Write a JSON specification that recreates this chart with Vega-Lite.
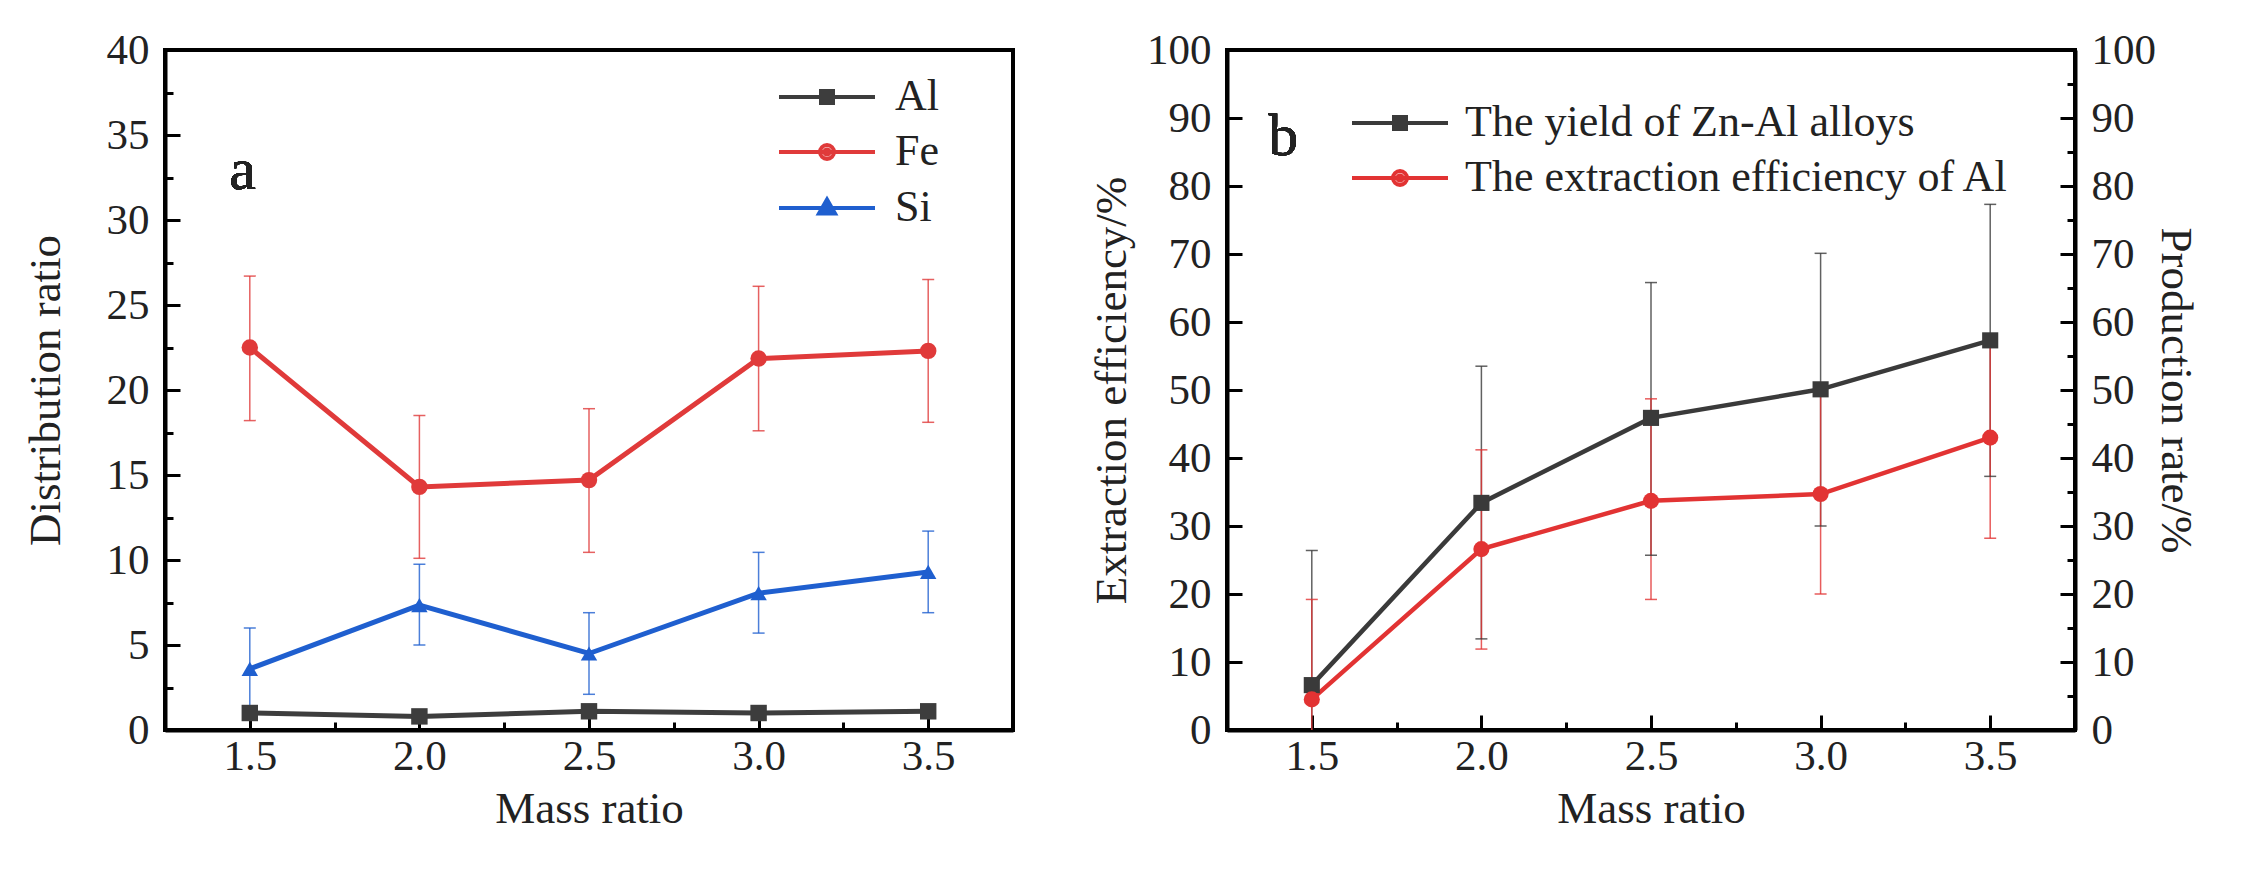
{
  "$schema": "https://vega.github.io/schema/vega-lite/v6.json",
  "background": "white",
  "padding": {"left": 21, "top": 27, "right": 10, "bottom": 10},
  "spacing": 72,
  "config": {
    "font": "Liberation Serif, serif",
    "style": {
      "guide-label": {"font": "Liberation Serif, serif"},
      "guide-title": {"font": "Liberation Serif, serif"}
    },
    "view": {"stroke": "black", "strokeWidth": 4},
    "axis": {
      "grid": false,
      "domainColor": "black",
      "domainWidth": 4,
      "tickColor": "black",
      "tickWidth": 3,
      "labelFont": "Liberation Serif, serif",
      "labelFontSize": 43,
      "labelColor": "#222222",
      "labelPadding": 31,
      "labelOverlap": false,
      "labelFlush": false,
      "titleFont": "Liberation Serif, serif",
      "titleFontSize": 45,
      "titleFontWeight": "normal",
      "titleColor": "#222222",
      "titlePadding": 12
    },
    "legend": {
      "orient": "none",
      "title": null,
      "padding": 0,
      "symbolSize": 1600,
      "symbolOpacity": 1,
      "symbolStrokeWidth": 4,
      "labelFont": "Liberation Serif, serif",
      "labelFontSize": 44,
      "labelColor": "#222222",
      "labelLimit": 1000
    }
  },
  "resolve": {"scale": {"color": "independent", "shape": "independent"}},
  "hconcat": [
    {
      "width": 848,
      "height": 680,
      "data": {
        "values": [
          {"mass": 1.5, "element": "Al", "value": 1.0, "lo": null, "hi": null},
          {"mass": 2.0, "element": "Al", "value": 0.8, "lo": null, "hi": null},
          {"mass": 2.5, "element": "Al", "value": 1.1, "lo": null, "hi": null},
          {"mass": 3.0, "element": "Al", "value": 1.0, "lo": null, "hi": null},
          {"mass": 3.5, "element": "Al", "value": 1.1, "lo": null, "hi": null},
          {"mass": 1.5, "element": "Fe", "value": 22.5, "lo": 18.2, "hi": 26.7},
          {"mass": 2.0, "element": "Fe", "value": 14.3, "lo": 10.1, "hi": 18.5},
          {"mass": 2.5, "element": "Fe", "value": 14.7, "lo": 10.45, "hi": 18.9},
          {"mass": 3.0, "element": "Fe", "value": 21.85, "lo": 17.6, "hi": 26.1},
          {"mass": 3.5, "element": "Fe", "value": 22.3, "lo": 18.1, "hi": 26.5},
          {"mass": 1.5, "element": "Si", "value": 3.6, "lo": 1.2, "hi": 6.0},
          {"mass": 2.0, "element": "Si", "value": 7.35, "lo": 5.0, "hi": 9.75},
          {"mass": 2.5, "element": "Si", "value": 4.5, "lo": 2.1, "hi": 6.9},
          {"mass": 3.0, "element": "Si", "value": 8.05, "lo": 5.7, "hi": 10.45},
          {"mass": 3.5, "element": "Si", "value": 9.3, "lo": 6.9, "hi": 11.7}
        ]
      },
      "resolve": {"scale": {"shape": "independent"}},
      "layer": [
        {
          "mark": {"type": "rule", "strokeWidth": 1.5, "opacity": 0.8, "clip": true},
          "encoding": {
            "x": {
              "field": "mass", "type": "quantitative", "title": "Mass ratio",
              "scale": {"domain": [1.25, 3.75], "nice": false, "zero": false},
              "axis": {
                "values": [1.5, 1.75, 2.0, 2.25, 2.5, 2.75, 3.0, 3.25, 3.5],
                "labelExpr": "(datum.value * 4) % 2 === 0 ? format(datum.value, '.1f') : ''",
                "tickSize": {"condition": {"test": "(datum.value * 4) % 2 === 0", "value": -15}, "value": -8},
                "labelFont": "Liberation Serif, serif", "titleFont": "Liberation Serif, serif",
                "labelPadding": 20, "titlePadding": 1
              }
            },
            "y": {
              "field": "lo", "type": "quantitative", "title": "Distribution ratio",
              "scale": {"domain": [0, 40], "nice": false},
              "axis": {
                "values": [0, 2.5, 5, 7.5, 10, 12.5, 15, 17.5, 20, 22.5, 25, 27.5, 30, 32.5, 35, 37.5, 40],
                "labelExpr": "datum.value % 5 === 0 ? datum.label : ''",
                "tickSize": {"condition": {"test": "datum.value % 5 === 0", "value": -15}, "value": -8},
                "labelFont": "Liberation Serif, serif", "titleFont": "Liberation Serif, serif", "titlePadding": 38
              }
            },
            "y2": {"field": "hi"},
            "color": {"field": "element", "type": "nominal", "scale": {"domain": ["Al", "Fe", "Si"], "range": ["#3d3d3d", "#e03a3a", "#1f5fcf"]}, "legend": null}
          }
        },
        {
          "mark": {"type": "tick", "orient": "horizontal", "size": 12, "thickness": 1.5, "opacity": 0.8, "clip": true},
          "encoding": {
            "x": {"field": "mass", "type": "quantitative"},
            "y": {"field": "lo", "type": "quantitative"},
            "color": {"field": "element", "type": "nominal", "legend": null}
          }
        },
        {
          "mark": {"type": "tick", "orient": "horizontal", "size": 12, "thickness": 1.5, "opacity": 0.8, "clip": true},
          "encoding": {
            "x": {"field": "mass", "type": "quantitative"},
            "y": {"field": "hi", "type": "quantitative"},
            "color": {"field": "element", "type": "nominal", "legend": null}
          }
        },
        {
          "mark": {"type": "line", "strokeWidth": 5},
          "encoding": {
            "x": {"field": "mass", "type": "quantitative"},
            "y": {"field": "value", "type": "quantitative"},
            "color": {"field": "element", "type": "nominal", "legend": null}
          }
        },
        {
          "mark": {"type": "point", "filled": true, "opacity": 1},
          "encoding": {
            "x": {"field": "mass", "type": "quantitative"},
            "y": {"field": "value", "type": "quantitative"},
            "color": {"field": "element", "type": "nominal", "legend": null},
            "shape": {"field": "element", "type": "nominal", "scale": {"domain": ["Al", "Fe", "Si"], "range": ["square", "circle", "triangle-up"]}, "legend": null},
            "size": {"value": 270}
          }
        },
        {
          "transform": [{"filter": "datum.element === 'Al'"}],
          "mark": {"type": "point", "filled": false, "color": "#3d3d3d", "strokeWidth": 4, "opacity": 0},
          "encoding": {
            "x": {"field": "mass", "type": "quantitative"},
            "y": {"field": "value", "type": "quantitative"},
            "shape": {
              "field": "element", "type": "nominal",
              "scale": {"domain": ["Al"], "range": ["M-2.4,0H2.4M-0.3,-0.3H0.3V0.3H-0.3ZM-0.1,-0.1H0.1V0.1H-0.1Z"]},
              "legend": {"legendX": 640, "legendY": 25, "labelOffset": 46, "symbolStrokeColor": "#3d3d3d"}
            }
          }
        },
        {
          "transform": [{"filter": "datum.element === 'Fe'"}],
          "mark": {"type": "point", "filled": false, "color": "#e03a3a", "strokeWidth": 4, "opacity": 0},
          "encoding": {
            "x": {"field": "mass", "type": "quantitative"},
            "y": {"field": "value", "type": "quantitative"},
            "shape": {
              "field": "element", "type": "nominal",
              "scale": {"domain": ["Fe"], "range": ["M-2.4,0H2.4M-0.35,0A0.35,0.35 0 1,0 0.35,0A0.35,0.35 0 1,0 -0.35,0ZM-0.13,0A0.13,0.13 0 1,0 0.13,0A0.13,0.13 0 1,0 -0.13,0Z"]},
              "legend": {"legendX": 640, "legendY": 80, "labelOffset": 46, "symbolStrokeColor": "#e03a3a"}
            }
          }
        },
        {
          "transform": [{"filter": "datum.element === 'Si'"}],
          "mark": {"type": "point", "filled": false, "color": "#1f5fcf", "strokeWidth": 4, "opacity": 0},
          "encoding": {
            "x": {"field": "mass", "type": "quantitative"},
            "y": {"field": "value", "type": "quantitative"},
            "shape": {
              "field": "element", "type": "nominal",
              "scale": {"domain": ["Si"], "range": ["M-2.4,0H2.4M0,-0.42L0.4,0.28L-0.4,0.28ZM0,-0.15L0.14,0.1L-0.14,0.1Z"]},
              "legend": {"legendX": 640, "legendY": 136, "labelOffset": 46, "symbolStrokeColor": "#1f5fcf"}
            }
          }
        },
        {
          "mark": {"type": "text", "text": "a", "fontSize": 60, "font": "Liberation Serif, serif", "align": "center", "baseline": "alphabetic", "color": "#222222"},
          "encoding": {
            "x": {"datum": 1.479, "type": "quantitative"},
            "y": {"datum": 31.8, "type": "quantitative"}
          }
        }
      ]
    },
    {
      "width": 848,
      "height": 680,
      "data": {
        "values": [
          {"mass": 1.5, "series": "The yield of Zn-Al alloys", "value": 6.6, "lo": -13.2, "hi": 26.4},
          {"mass": 2.0, "series": "The yield of Zn-Al alloys", "value": 33.4, "lo": 13.4, "hi": 53.5},
          {"mass": 2.5, "series": "The yield of Zn-Al alloys", "value": 45.9, "lo": 25.7, "hi": 65.8},
          {"mass": 3.0, "series": "The yield of Zn-Al alloys", "value": 50.1, "lo": 30.0, "hi": 70.1},
          {"mass": 3.5, "series": "The yield of Zn-Al alloys", "value": 57.3, "lo": 37.3, "hi": 77.3},
          {"mass": 1.5, "series": "The extraction efficiency of Al", "value": 4.5, "lo": -10.2, "hi": 19.2},
          {"mass": 2.0, "series": "The extraction efficiency of Al", "value": 26.6, "lo": 11.9, "hi": 41.2},
          {"mass": 2.5, "series": "The extraction efficiency of Al", "value": 33.7, "lo": 19.2, "hi": 48.7},
          {"mass": 3.0, "series": "The extraction efficiency of Al", "value": 34.7, "lo": 20.0, "hi": 49.4},
          {"mass": 3.5, "series": "The extraction efficiency of Al", "value": 43.0, "lo": 28.2, "hi": 57.6}
        ]
      },
      "resolve": {"axis": {"y": "independent"}},
      "layer": [
        {
          "resolve": {"scale": {"shape": "independent"}},
          "layer": [
            {
              "mark": {"type": "rule", "strokeWidth": 1.5, "opacity": 0.8, "clip": true},
              "encoding": {
                "x": {
                  "field": "mass", "type": "quantitative", "title": "Mass ratio",
                  "scale": {"domain": [1.25, 3.75], "nice": false, "zero": false},
                  "axis": {
                    "values": [1.5, 1.75, 2.0, 2.25, 2.5, 2.75, 3.0, 3.25, 3.5],
                    "labelExpr": "(datum.value * 4) % 2 === 0 ? format(datum.value, '.1f') : ''",
                    "tickSize": {"condition": {"test": "(datum.value * 4) % 2 === 0", "value": -15}, "value": -8},
                    "labelFont": "Liberation Serif, serif", "titleFont": "Liberation Serif, serif",
                    "labelPadding": 20, "titlePadding": 1
                  }
                },
                "y": {
                  "field": "lo", "type": "quantitative", "title": "Extraction efficiency/%",
                  "scale": {"domain": [0, 100], "nice": false},
                  "axis": {
                    "values": [0, 5, 10, 15, 20, 25, 30, 35, 40, 45, 50, 55, 60, 65, 70, 75, 80, 85, 90, 95, 100],
                    "labelExpr": "datum.value % 10 === 0 ? datum.label : ''",
                    "tickSize": {"condition": {"test": "datum.value % 10 === 0", "value": -15}, "value": -8},
                    "labelFont": "Liberation Serif, serif", "titleFont": "Liberation Serif, serif", "titlePadding": 12
                  }
                },
                "y2": {"field": "hi"},
                "color": {"field": "series", "type": "nominal", "scale": {"domain": ["The yield of Zn-Al alloys", "The extraction efficiency of Al"], "range": ["#3a3a3a", "#e23333"]}, "legend": null}
              }
            },
            {
              "mark": {"type": "tick", "orient": "horizontal", "size": 12, "thickness": 1.5, "opacity": 0.8, "clip": true},
              "encoding": {
                "x": {"field": "mass", "type": "quantitative"},
                "y": {"field": "lo", "type": "quantitative"},
                "color": {"field": "series", "type": "nominal", "legend": null}
              }
            },
            {
              "mark": {"type": "tick", "orient": "horizontal", "size": 12, "thickness": 1.5, "opacity": 0.8, "clip": true},
              "encoding": {
                "x": {"field": "mass", "type": "quantitative"},
                "y": {"field": "hi", "type": "quantitative"},
                "color": {"field": "series", "type": "nominal", "legend": null}
              }
            },
            {
              "mark": {"type": "line", "strokeWidth": 4.5},
              "encoding": {
                "x": {"field": "mass", "type": "quantitative"},
                "y": {"field": "value", "type": "quantitative"},
                "color": {"field": "series", "type": "nominal", "legend": null}
              }
            },
            {
              "mark": {"type": "point", "filled": true, "opacity": 1},
              "encoding": {
                "x": {"field": "mass", "type": "quantitative"},
                "y": {"field": "value", "type": "quantitative"},
                "color": {"field": "series", "type": "nominal", "legend": null},
                "shape": {"field": "series", "type": "nominal", "scale": {"domain": ["The yield of Zn-Al alloys", "The extraction efficiency of Al"], "range": ["square", "circle"]}, "legend": null},
                "size": {"value": 260}
              }
            },
            {
              "transform": [{"filter": "datum.series === 'The yield of Zn-Al alloys'"}],
              "mark": {"type": "point", "filled": false, "color": "#3a3a3a", "strokeWidth": 4, "opacity": 0},
              "encoding": {
                "x": {"field": "mass", "type": "quantitative"},
                "y": {"field": "value", "type": "quantitative"},
                "shape": {
                  "field": "series", "type": "nominal",
                  "scale": {"domain": ["The yield of Zn-Al alloys"], "range": ["M-2.4,0H2.4M-0.3,-0.3H0.3V0.3H-0.3ZM-0.1,-0.1H0.1V0.1H-0.1Z"]},
                  "legend": {"legendX": 151, "legendY": 51, "labelOffset": 43, "symbolStrokeColor": "#3a3a3a"}
                }
              }
            },
            {
              "transform": [{"filter": "datum.series === 'The extraction efficiency of Al'"}],
              "mark": {"type": "point", "filled": false, "color": "#e23333", "strokeWidth": 4, "opacity": 0},
              "encoding": {
                "x": {"field": "mass", "type": "quantitative"},
                "y": {"field": "value", "type": "quantitative"},
                "shape": {
                  "field": "series", "type": "nominal",
                  "scale": {"domain": ["The extraction efficiency of Al"], "range": ["M-2.4,0H2.4M-0.35,0A0.35,0.35 0 1,0 0.35,0A0.35,0.35 0 1,0 -0.35,0ZM-0.13,0A0.13,0.13 0 1,0 0.13,0A0.13,0.13 0 1,0 -0.13,0Z"]},
                  "legend": {"legendX": 151, "legendY": 106, "labelOffset": 43, "symbolStrokeColor": "#e23333"}
                }
              }
            },
            {
              "mark": {"type": "text", "text": "b", "fontSize": 60, "font": "Liberation Serif, serif", "align": "center", "baseline": "alphabetic", "color": "#222222"},
              "encoding": {
                "x": {"datum": 1.416, "type": "quantitative"},
                "y": {"datum": 84.5, "type": "quantitative"}
              }
            }
          ]
        },
        {
          "mark": {"type": "point", "opacity": 0},
          "encoding": {
            "x": {"field": "mass", "type": "quantitative"},
            "y": {
              "field": "value", "type": "quantitative", "title": "Production rate/%",
              "scale": {"domain": [0, 100], "nice": false},
              "axis": {
                "orient": "right",
                "values": [0, 5, 10, 15, 20, 25, 30, 35, 40, 45, 50, 55, 60, 65, 70, 75, 80, 85, 90, 95, 100],
                "labelExpr": "datum.value % 10 === 0 ? datum.label : ''",
                "tickSize": {"condition": {"test": "datum.value % 10 === 0", "value": -15}, "value": -8},
                "labelFont": "Liberation Serif, serif", "titleFont": "Liberation Serif, serif", "titlePadding": -3
              }
            }
          }
        }
      ]
    }
  ]
}
